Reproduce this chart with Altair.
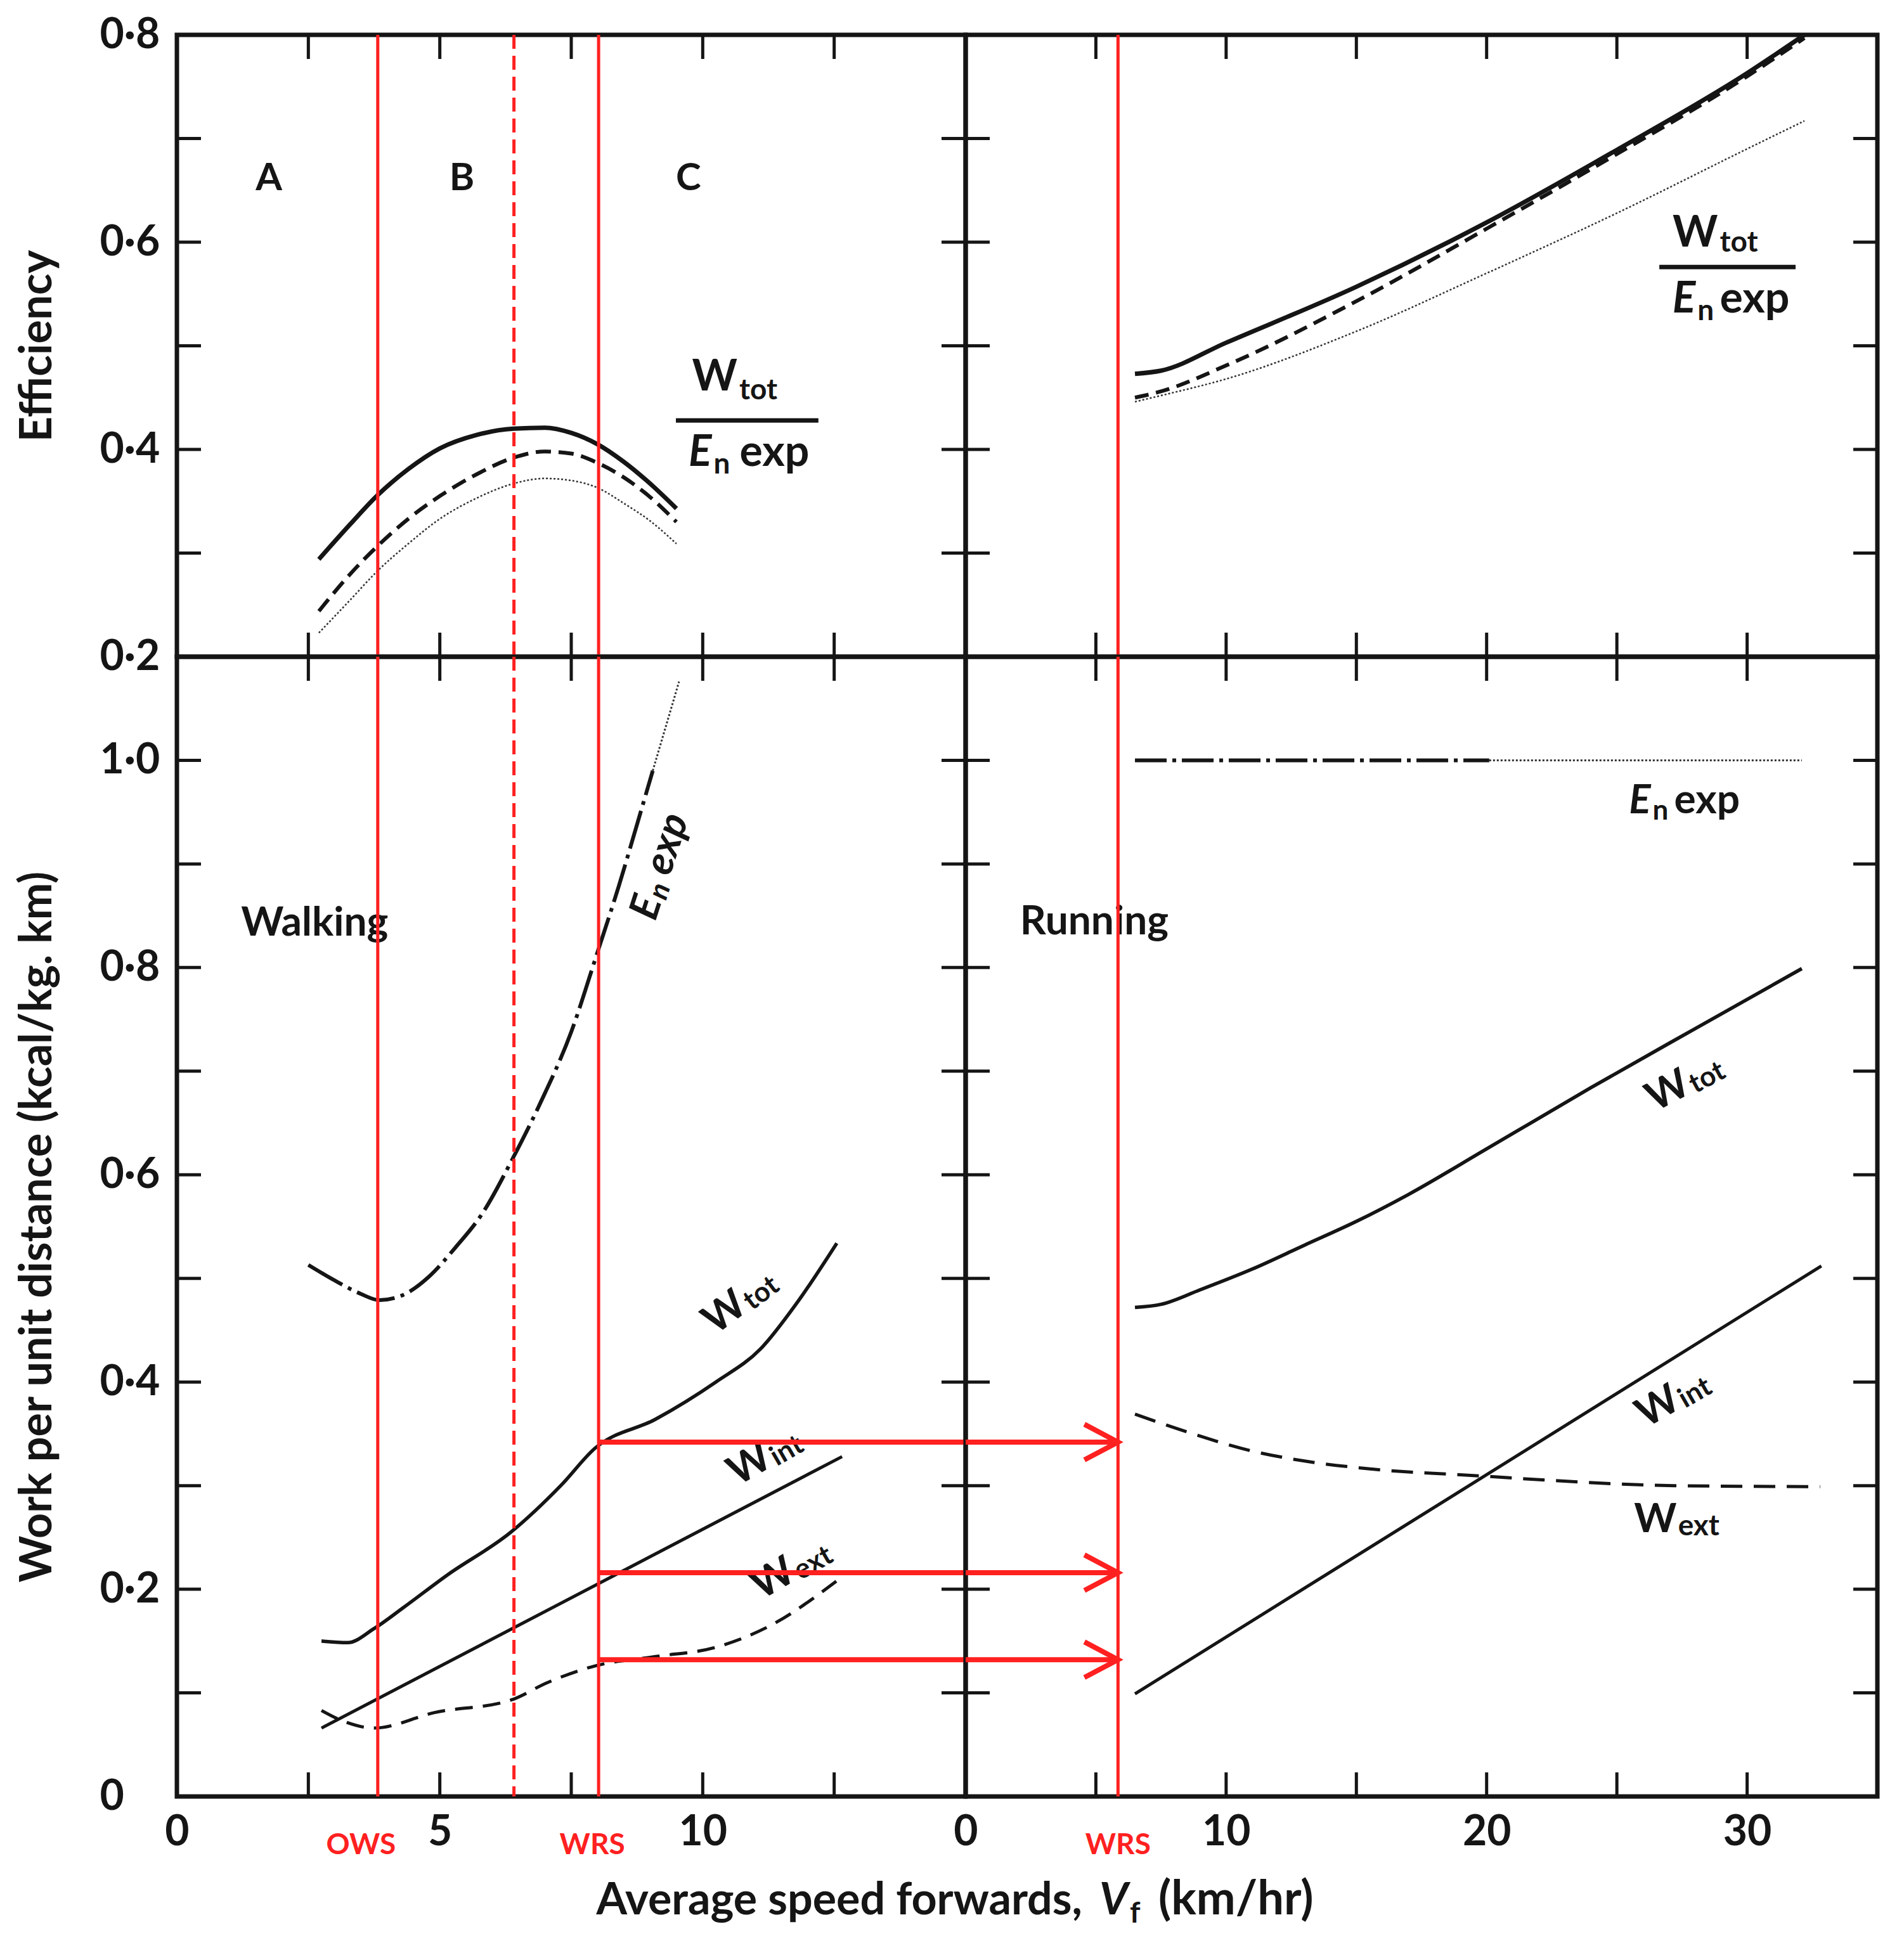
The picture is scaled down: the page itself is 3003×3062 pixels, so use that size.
import altair as alt
import pandas as pd

FONT = "Lato"
INK = "#151515"
RED = "#ff2020"

# ---------------- values ----------------
# x: average forward speed (km/hr)

# Efficiency, walking (three curves)
eff_walk_speed = [2.7, 3.3, 3.8, 4.4, 5.0, 5.7, 6.4, 7.0, 7.5, 8.0, 8.5, 9.0, 9.5]
eff_walk_solid = [0.294, 0.328, 0.355, 0.381, 0.401, 0.414, 0.420, 0.421, 0.416, 0.405, 0.388, 0.367, 0.343]
eff_walk_dashed = [0.244, 0.280, 0.306, 0.333, 0.355, 0.376, 0.392, 0.398, 0.396, 0.387, 0.373, 0.354, 0.330]
eff_walk_dotted = [0.223, 0.255, 0.282, 0.309, 0.333, 0.353, 0.367, 0.372, 0.370, 0.363, 0.348, 0.331, 0.309]

# Efficiency, running
eff_run_speed = [6.5, 7.5, 10, 15, 20, 25, 30, 32.2]
eff_run_solid = [0.473, 0.476, 0.503, 0.557, 0.619, 0.689, 0.763, 0.800]
eff_run_dashed = [0.450, 0.456, 0.481, 0.543, 0.613, 0.685, 0.760, 0.797]
eff_run_dotted = [0.446, 0.452, 0.468, 0.514, 0.570, 0.628, 0.690, 0.717]

# Work per unit distance, walking
wtot_walk_speed = [2.75, 3.25, 3.75, 4.3, 5.15, 6.35, 7.3, 7.95, 9.1, 10.25, 11.1, 11.8, 12.55]
wtot_walk = [0.150, 0.1485, 0.162, 0.182, 0.214, 0.255, 0.300, 0.336, 0.364, 0.400, 0.432, 0.477, 0.534]
wint_walk_speed = [2.75, 12.65]
wint_walk = [0.066, 0.328]
wext_walk_speed = [2.75, 3.2, 3.75, 4.9, 6.35, 7.05, 7.95, 9.1, 10.25, 11.25, 12.6]
wext_walk = [0.083, 0.072, 0.066, 0.081, 0.093, 0.110, 0.126, 0.135, 0.144, 0.164, 0.210]
en_walk_speed = [2.5, 3.0, 3.5, 3.85, 4.3, 4.8, 5.3, 5.8, 6.4, 6.9, 7.5, 8.0, 8.4, 8.75, 9.05]
en_walk = [0.513, 0.498, 0.485, 0.479, 0.484, 0.502, 0.530, 0.562, 0.617, 0.668, 0.738, 0.815, 0.878, 0.938, 0.990]
en_walk_dot_speed = [9.05, 9.3, 9.55]
en_walk_dot = [0.990, 1.033, 1.076]

# Work per unit distance, running
wtot_run_speed = [6.5, 7.5, 9, 11, 13, 15, 17, 20, 24, 28, 32.1]
wtot_run = [0.472, 0.475, 0.489, 0.509, 0.532, 0.555, 0.581, 0.625, 0.684, 0.741, 0.799]
wint_run_speed = [6.5, 32.85]
wint_run = [0.099, 0.512]
wext_run_speed = [6.5, 8.6, 10.9, 13.2, 15.6, 20, 22.5, 27.2, 32.8]
wext_run = [0.369, 0.351, 0.334, 0.323, 0.316, 0.309, 0.305, 0.300, 0.299]
en_run_speed = [6.5, 20.1]
en_run = [1.0, 1.0]
en_run_dot_speed = [20.1, 32.1]
en_run_dot = [1.0, 1.0]

# red annotations
ows_speed = 3.82
split_speed = 6.41
wrs_walk_speed = 8.02
wrs_run_speed = 5.85
arrow_levels = [0.342, 0.216, 0.132]

# ticks and tick labels
walk_ticks = [2.5, 5, 7.5, 10, 12.5]
run_ticks = [5, 10, 15, 20, 25, 30]
eff_ticks = [0.3, 0.4, 0.5, 0.6, 0.7]
work_ticks = [0.1, 0.2, 0.3, 0.4, 0.5, 0.6, 0.7, 0.8, 0.9, 1.0]
walk_labels = [0, 5, 10]
run_labels = [0, 10, 20, 30]
eff_labels = [0.2, 0.4, 0.6, 0.8]
work_labels = [0, 0.2, 0.4, 0.6, 0.8, 1.0]

# ---------------- layout ----------------
W_WALK, W_RUN = 1244, 1438
H_EFF, H_WORK = 981, 1798
TICK = 38
WEIGHT = "bold"

LABEL_EXPR = "datum.value == 0 ? '0' : replace(format(datum.value, '.1f'), '.', '·')"


def sc(d):
    return alt.Scale(domain=d, nice=False, zero=False)


def x_axis(values):
    return alt.Axis(values=values, title=None, grid=False, domain=False, ticks=False, tickSize=0,
                    labelFont=FONT, labelFontSize=66, labelFontWeight="bold", labelColor=INK,
                    labelPadding=24, labelFlush=False, labelOverlap=False)


def y_axis(values, title):
    return alt.Axis(values=values, title=title, grid=False, domain=False, ticks=False, tickSize=0,
                    labelFont=FONT, labelFontSize=66, labelFontWeight="bold", labelColor=INK,
                    labelAlign="left", labelPadding=122, labelOverlap=False, labelExpr=LABEL_EXPR,
                    titleFont=FONT, titleFontSize=70, titleFontWeight=WEIGHT, titleColor=INK,
                    titlePadding=62)


class Panel:
    def __init__(self, xdom, ydom, width, height, xaxis=None, yaxis=None):
        self.xsc, self.ysc = sc(xdom), sc(ydom)
        self.xaxis, self.yaxis = xaxis, yaxis
        self.w, self.h = width, height
        self.layers = []

    def X(self, f):
        return alt.X(f, type="quantitative", scale=self.xsc, axis=self.xaxis)

    def Y(self, f):
        return alt.Y(f, type="quantitative", scale=self.ysc, axis=self.yaxis)

    def frame_ticks(self, xt, yt):
        dx = pd.DataFrame({"t": xt})
        dy = pd.DataFrame({"t": yt})
        st = dict(color=INK, strokeWidth=5)
        self.layers += [
            alt.Chart(dx).mark_rule(**st).encode(x=self.X("t"), y=alt.value(0), y2=alt.value(TICK)),
            alt.Chart(dx).mark_rule(**st).encode(x=self.X("t"), y=alt.value(self.h), y2=alt.value(self.h - TICK)),
            alt.Chart(dy).mark_rule(**st).encode(y=self.Y("t"), x=alt.value(0), x2=alt.value(TICK)),
            alt.Chart(dy).mark_rule(**st).encode(y=self.Y("t"), x=alt.value(self.w), x2=alt.value(self.w - TICK)),
        ]

    def line(self, xs, ys, **mk):
        df = pd.DataFrame({"s": xs, "v": ys})
        props = dict(interpolate="monotone", color=INK, strokeCap="butt")
        props.update(mk)
        self.layers.append(alt.Chart(df).mark_line(**props).encode(x=self.X("s"), y=self.Y("v")))

    def vrules(self, xs, **mk):
        df = pd.DataFrame({"s": xs})
        self.layers.append(alt.Chart(df).mark_rule(**mk).encode(x=self.X("s")))

    def hsegs(self, x1, x2, ys, **mk):
        df = pd.DataFrame({"s": [x1] * len(ys), "s2": [x2] * len(ys), "v": ys})
        self.layers.append(alt.Chart(df).mark_rule(**mk).encode(x=self.X("s"), x2=alt.X2("s2"), y=self.Y("v")))

    def points(self, xs, ys, **mk):
        df = pd.DataFrame({"s": xs, "v": ys})
        self.layers.append(alt.Chart(df).mark_point(**mk).encode(x=self.X("s"), y=self.Y("v")))

    def text(self, x, y, txt, **mk):
        df = pd.DataFrame({"s": [x], "v": [y]})
        props = dict(font=FONT, color=INK, fontSize=62, fontWeight=WEIGHT, baseline="alphabetic", align="center")
        props.update(mk)
        self.layers.append(alt.Chart(df).mark_text(text=txt, **props).encode(x=self.X("s"), y=self.Y("v")))

    def text_below(self, x, py, txt, **mk):
        df = pd.DataFrame({"s": [x]})
        props = dict(font=FONT, color=INK, fontSize=62, fontWeight=WEIGHT, baseline="middle", align="center")
        props.update(mk)
        self.layers.append(alt.Chart(df).mark_text(text=txt, **props).encode(x=self.X("s"), y=alt.value(py)))

    def ptext(self, px, py, txt, **mk):
        df = pd.DataFrame({"k": [0]})
        props = dict(font=FONT, color=INK, fontSize=62, fontWeight=WEIGHT, baseline="alphabetic", align="left")
        props.update(mk)
        self.layers.append(alt.Chart(df).mark_text(text=txt, **props).encode(x=alt.value(px), y=alt.value(py)))

    def chart(self):
        return alt.layer(*self.layers).properties(width=self.w, height=self.h)


ARROW = "M -1 -0.53 L 0 0 L -1 0.53"
ARROW_SIZE = 11236
DASHDOT_WALK = [62, 10, 6, 10]
DASHDOT_RUN = [50, 9, 6, 9]
DOTTED = [3, 3]

# ---------- top-left: efficiency, walking ----------
tl = Panel([0, 15], [0.2, 0.8], W_WALK, H_EFF, None, y_axis(eff_labels, "Efficiency"))
tl.frame_ticks(walk_ticks, eff_ticks)
tl.line(eff_walk_speed, eff_walk_dotted, strokeWidth=2.5, strokeDash=DOTTED, color="#333333")
tl.line(eff_walk_speed, eff_walk_dashed, strokeWidth=6, strokeDash=[24, 12])
tl.line(eff_walk_speed, eff_walk_solid, strokeWidth=7)
for lab, xv in [("A", 1.75), ("B", 5.42), ("C", 9.73)]:
    tl.text(xv, 0.650, lab, fontSize=60)
tl.text(10.66, 0.457, "W", align="right", fontSize=68)
tl.text(10.66, 0.457, "tot", align="left", dx=3, dy=14, fontSize=46)
tl.hsegs(9.49, 12.2, [0.428], color=INK, strokeWidth=7)
tl.text(10.17, 0.384, "E", align="right", fontSize=68, fontStyle="italic")
tl.text(10.17, 0.384, "n", align="left", dx=3, dy=12, fontSize=46)
tl.text(10.70, 0.384, "exp", align="left", fontSize=68)
tl.vrules([ows_speed, wrs_walk_speed], color=RED, strokeWidth=5)
tl.vrules([split_speed], color=RED, strokeWidth=5, strokeDash=[22, 11])

# ---------- top-right: efficiency, running ----------
tr = Panel([0, 35], [0.2, 0.8], W_RUN, H_EFF, None, None)
tr.frame_ticks(run_ticks, eff_ticks)
tr.line(eff_run_speed, eff_run_dotted, strokeWidth=2.5, strokeDash=DOTTED, color="#333333")
tr.line(eff_run_speed, eff_run_dashed, strokeWidth=6, strokeDash=[22, 12])
tr.line(eff_run_speed, eff_run_solid, strokeWidth=7)
tr.text(28.88, 0.596, "W", align="right", fontSize=68)
tr.text(28.88, 0.596, "tot", align="left", dx=3, dy=8, fontSize=46)
tr.hsegs(26.63, 31.86, [0.576], color=INK, strokeWidth=7)
tr.text(28.02, 0.532, "E", align="right", fontSize=68, fontStyle="italic")
tr.text(28.02, 0.532, "n", align="left", dx=3, dy=12, fontSize=46)
tr.text(28.95, 0.532, "exp", align="left", fontSize=68)
tr.vrules([wrs_run_speed], color=RED, strokeWidth=5)

# ---------- bottom-left: work, walking ----------
bl = Panel([0, 15], [0, 1.1], W_WALK, H_WORK, x_axis(walk_labels),
           y_axis(work_labels, "Work per unit distance (kcal/kg. km)"))
bl.frame_ticks(walk_ticks, work_ticks)
bl.line(en_walk_speed, en_walk, strokeWidth=6, strokeDash=DASHDOT_WALK)
bl.line(en_walk_dot_speed, en_walk_dot, strokeWidth=3, strokeDash=DOTTED, color="#333333")
bl.line(wtot_walk_speed, wtot_walk, strokeWidth=5.5)
bl.line(wint_walk_speed, wint_walk, strokeWidth=5, interpolate="linear")
bl.line(wext_walk_speed, wext_walk, strokeWidth=5, strokeDash=[28, 16])
bl.text(2.62, 0.831, "Walking", fontSize=64)
bl.text(9.2, 0.898, "E", align="right", dx=-52, angle=288, baseline="middle", fontSize=64, fontStyle="italic")
bl.text(9.2, 0.898, "n", align="left", dx=-50, dy=12, angle=288, baseline="middle", fontSize=44, fontStyle="italic")
bl.text(9.2, 0.898, "exp", align="left", dx=-12, angle=288, baseline="middle", fontSize=64, fontStyle="italic")
for (xv, yv, sub, ang) in [(10.75, 0.479, "tot", 323), (11.25, 0.33, "int", 330), (11.7, 0.220, "ext", 330)]:
    bl.text(xv, yv, "W", align="right", angle=ang, baseline="middle", fontSize=64)
    bl.text(xv, yv, sub, align="left", dx=2, dy=10, angle=ang, baseline="middle", fontSize=44)
bl.vrules([ows_speed, wrs_walk_speed], color=RED, strokeWidth=5)
bl.vrules([split_speed], color=RED, strokeWidth=5, strokeDash=[22, 11])
bl.hsegs(wrs_walk_speed, 15, arrow_levels, color=RED, strokeWidth=8)
bl.text_below(3.5, H_WORK + 77, "OWS", color=RED, fontSize=46, fontWeight="bold")
bl.text_below(7.9, H_WORK + 77, "WRS", color=RED, fontSize=46, fontWeight="bold")
bl.ptext(1428, H_WORK + 186, "Average speed forwards,", align="right", fontSize=70)
bl.ptext(1455, H_WORK + 186, "V", fontSize=70, fontStyle="italic")
bl.ptext(1503, H_WORK + 199, "f", fontSize=46)
bl.ptext(1548, H_WORK + 186, "(km/hr)", fontSize=74)

# ---------- bottom-right: work, running ----------
br = Panel([0, 35], [0, 1.1], W_RUN, H_WORK, x_axis(run_labels), None)
br.frame_ticks(run_ticks, work_ticks)
br.line(en_run_speed, en_run, strokeWidth=6, strokeDash=DASHDOT_RUN, interpolate="linear")
br.line(en_run_dot_speed, en_run_dot, strokeWidth=3, strokeDash=DOTTED, color="#333333", interpolate="linear")
br.line(wtot_run_speed, wtot_run, strokeWidth=5.5)
br.line(wint_run_speed, wint_run, strokeWidth=5, interpolate="linear")
br.line(wext_run_speed, wext_run, strokeWidth=5, strokeDash=[34, 18])
br.text(4.94, 0.832, "Running", fontSize=64)
br.text(26.3, 0.949, "E", align="right", fontSize=64, fontStyle="italic")
br.text(26.3, 0.949, "n", align="left", dx=3, dy=10, fontSize=44)
br.text(27.2, 0.949, "exp", align="left", fontSize=64)
br.text(27.7, 0.690, "W", align="right", angle=332, baseline="middle", fontSize=64)
br.text(27.7, 0.690, "tot", align="left", dx=2, dy=10, angle=332, baseline="middle", fontSize=44)
br.text(27.3, 0.386, "W", align="right", angle=330, baseline="middle", fontSize=64)
br.text(27.3, 0.386, "int", align="left", dx=2, dy=10, angle=330, baseline="middle", fontSize=44)
br.text(27.3, 0.255, "W", align="right", fontSize=64)
br.text(27.3, 0.255, "ext", align="left", dx=2, dy=5, fontSize=46)
br.vrules([wrs_run_speed], color=RED, strokeWidth=5)
br.hsegs(0, wrs_run_speed, arrow_levels, color=RED, strokeWidth=8)
br.points([wrs_run_speed] * 3, arrow_levels, shape=ARROW, size=ARROW_SIZE, filled=False,
          stroke=RED, strokeWidth=8, opacity=1, strokeJoin="miter")
br.text_below(wrs_run_speed, H_WORK + 77, "WRS", color=RED, fontSize=46, fontWeight="bold")

chart = alt.concat(tl.chart(), tr.chart(), bl.chart(), br.chart(),
                   columns=2, spacing=0, bounds="flush", align="each").properties(
    padding={"left": 12, "top": 10, "right": 10, "bottom": 10},
    background="white",
).configure_view(stroke=INK, strokeWidth=7)

chart.save("out.html", embed_options={"renderer": "svg", "actions": False})
